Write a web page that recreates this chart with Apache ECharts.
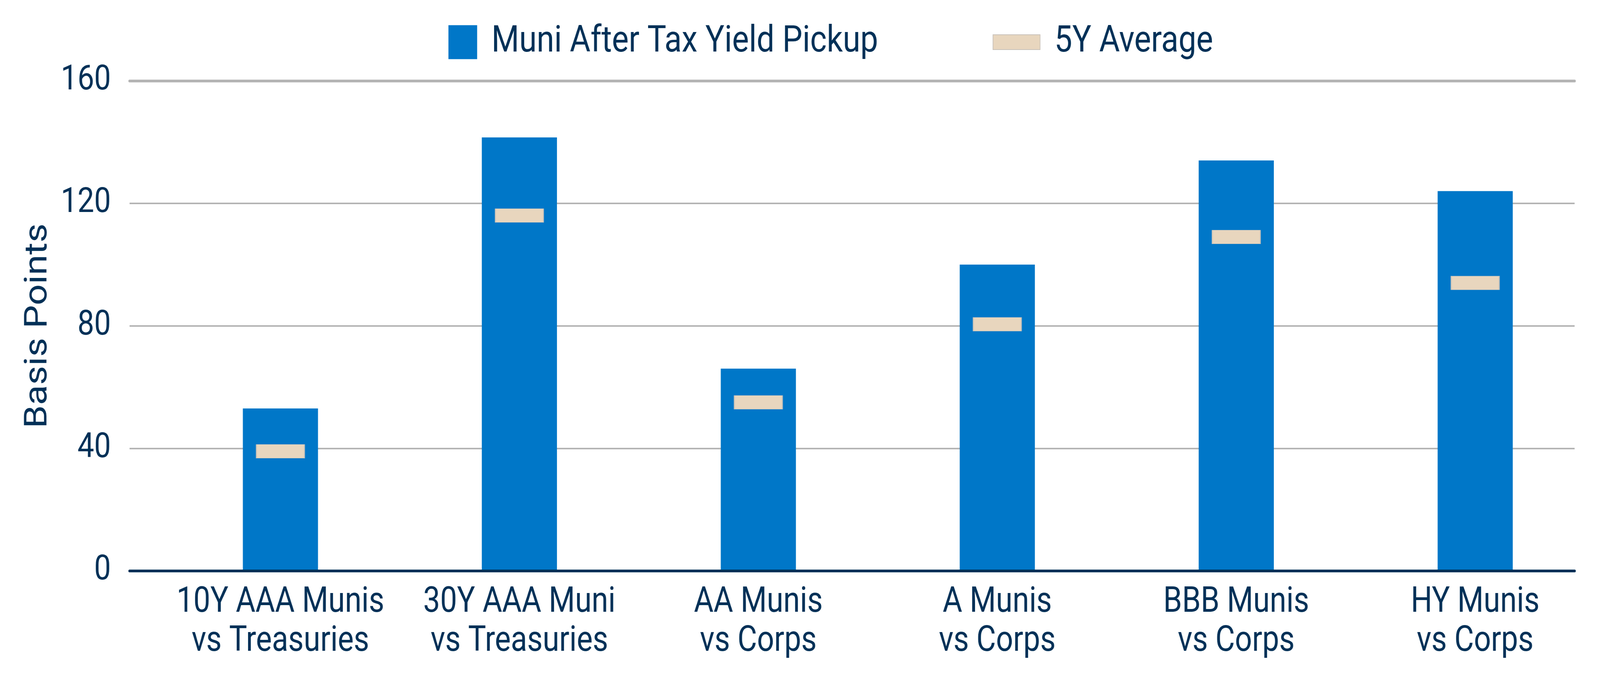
<!DOCTYPE html>
<html>
<head>
<meta charset="utf-8">
<script src="https://cdn.jsdelivr.net/npm/echarts@6/dist/echarts.min.js"></script>
<style>
html,body{margin:0;padding:0;background:#fff;overflow:hidden;}
#chart{width:4792px;height:1729px;transform-origin:0 0;}
</style>
</head>
<body>
<div id="chart"></div>
<script>
var categories = [
  "10Y AAA Munis\nvs Treasuries",
  "30Y AAA Muni\nvs Treasuries",
  "AA Munis\nvs Corps",
  "A Munis\nvs Corps",
  "BBB Munis\nvs Corps",
  "HY Munis\nvs Corps"
];
var pickupValues = [53, 141.5, 66, 100, 134, 124];
var avgValues = [39, 116, 55, 80.5, 109, 94];
var yTicks = { min: 0, max: 160, interval: 40 };
var seriesNames = ["Muni After Tax Yield Pickup", "5Y Average"];

var NAVY = "#003057";
var FONT = "Roboto";

// fit the 4792x1729 drawing into whatever viewport the browser actually has
var el = document.getElementById("chart");
var sx = window.innerWidth / 4792, sy = window.innerHeight / 1729;
if (Math.abs(sx - 1) > 0.001 || Math.abs(sy - 1) > 0.001) {
  el.style.transform = "scale(" + sx + "," + sy + ")";
}

var chart = echarts.init(el, null, { renderer: "canvas" });
chart.setOption({
  backgroundColor: "#ffffff",
  animation: false,
  textStyle: { fontFamily: FONT, color: NAVY },
  legend: [
    {
      data: [seriesNames[0]],
      left: 1338, top: 55,
      icon: "rect", itemWidth: 86, itemHeight: 87,
      textStyle: { fontFamily: FONT, fontSize: 95, color: NAVY, lineHeight: 90, padding: [6, 0, 0, 38] }
    },
    {
      data: [seriesNames[1]],
      left: 2968, top: 55,
      icon: "rect", itemWidth: 141, itemHeight: 38,
      textStyle: { fontFamily: FONT, fontSize: 95, color: NAVY, lineHeight: 90, padding: [6, 0, 0, 38] }
    }
  ],
  grid: [
    { left: 388, right: 76, top: 207, bottom: 267 },
    { left: 482, right: 16, top: 207, bottom: 267 }
  ],
  xAxis: [
    {
      gridIndex: 0, type: "category", data: categories, z: 5,
      axisLine: { show: true, lineStyle: { color: NAVY, width: 7 } },
      axisTick: { show: false }, axisLabel: { show: false }, splitLine: { show: false }
    },
    {
      gridIndex: 1, type: "category", data: categories,
      axisLine: { show: false }, axisTick: { show: false }, splitLine: { show: false },
      axisLabel: { fontFamily: FONT, fontSize: 90, lineHeight: 100, color: NAVY, margin: 32, interval: 0 }
    },
    {
      gridIndex: 0, type: "category", data: categories, position: "top", z: 1,
      axisLine: { show: true, lineStyle: { color: "#B4B4B4", width: 7 } },
      axisTick: { show: false }, axisLabel: { show: false }, splitLine: { show: false }
    }
  ],
  yAxis: [
    {
      gridIndex: 0, type: "value", min: yTicks.min, max: yTicks.max, interval: yTicks.interval,
      name: "Basis Points", nameLocation: "middle", nameGap: 225, nameRotate: 90,
      nameTextStyle: { fontFamily: FONT, fontSize: 95, color: NAVY },
      axisLine: { show: false }, axisTick: { show: false },
      axisLabel: { fontFamily: FONT, fontSize: 89, color: NAVY, margin: 56, padding: [0, 0, 22, 0] },
      splitLine: { show: true, lineStyle: { color: "#B4B4B4", width: 4 } }
    },
    {
      gridIndex: 1, type: "value", min: yTicks.min, max: yTicks.max, interval: yTicks.interval,
      show: false
    }
  ],
  series: [
    {
      name: seriesNames[0], type: "bar", xAxisIndex: 1, yAxisIndex: 1,
      data: pickupValues, barWidth: 225,
      itemStyle: { color: "#0077C8" }, z: 2
    },
    {
      name: seriesNames[1], type: "scatter", xAxisIndex: 1, yAxisIndex: 1,
      data: avgValues, symbol: "rect", symbolSize: [144, 35],
      itemStyle: { color: "#E8D6BE", borderColor: "#C9C2BA", borderWidth: 1.5, opacity: 1 }, z: 3
    }
  ]
});
</script>
</body>
</html>
